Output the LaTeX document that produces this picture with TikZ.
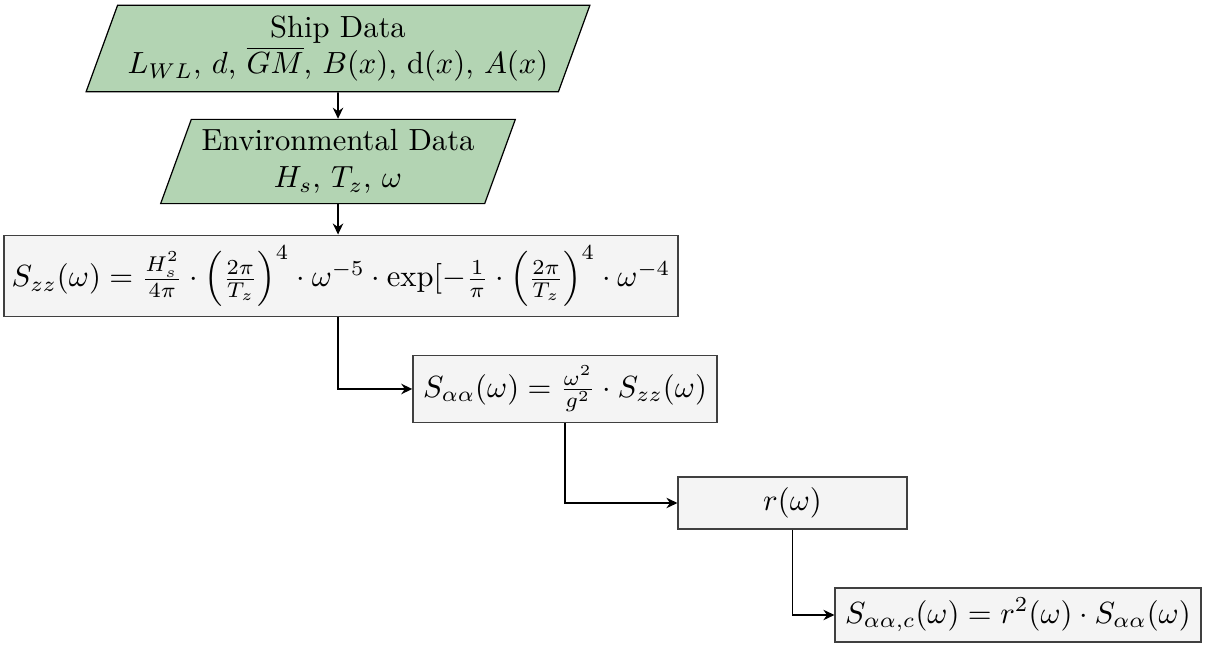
\documentclass[tikz,border=0pt]{standalone}
\usetikzlibrary{shapes.geometric,arrows.meta}
\definecolor{datagreen}{RGB}{179,212,179}
\definecolor{boxfill}{RGB}{244,244,244}
\begin{document}
\begin{tikzpicture}[x=0.3268pt,y=-0.3268pt,
  databox/.style={trapezium, trapezium left angle=70, trapezium right angle=110,
    draw=black, fill=datagreen, align=center, inner sep=3.33pt},
  procbox/.style={rectangle, draw=black!75, fill=boxfill, align=center, inner sep=3.33pt},
  conn/.style={-{Stealth[length=3.6pt,width=3.4pt]}, semithick}]
\useasboundingbox (0,0) rectangle (1208,646);
\node[databox] (ship) at (338,48.5) {Ship Data\\$L_{WL}$, $d$, $\overline{GM}$, $B(x)$, $\mathrm{d}(x)$, $A(x)$};
\node[databox] (env) at (338,161.5) {Environmental Data\\$H_s$, $T_z$, $\omega$};
\node[procbox, inner xsep=2.5pt] (szz) at (341,276) {$S_{zz}(\omega) = \frac{H_s^2}{4\pi}\cdot\left(\frac{2\pi}{T_z}\right)^4\cdot\omega^{-5}\cdot\exp[-\frac{1}{\pi}\cdot\left(\frac{2\pi}{T_z}\right)^4\cdot\omega^{-4}$};
\node[procbox] (saa) at (565,389) {$S_{\alpha\alpha}(\omega) = \frac{\omega^2}{g^2}\cdot S_{zz}(\omega)$};
\node[procbox, minimum width=74.8pt, minimum height=17pt] (r) at (792.5,503) {$r(\omega)$};
\node[procbox] (sc) at (1018,615) {$S_{\alpha\alpha,c}(\omega) = r^2(\omega)\cdot S_{\alpha\alpha}(\omega)$};
\draw[conn] (ship.south) -- (env.north);
\draw[conn] (env.south) -- (szz.north -| env.south);
\draw[conn] (szz.south -| env.south) |- (saa.west);
\draw[conn] (saa.south) |- (r.west);
\draw[conn] (r.south) |- (sc.west);
\end{tikzpicture}
\end{document}
